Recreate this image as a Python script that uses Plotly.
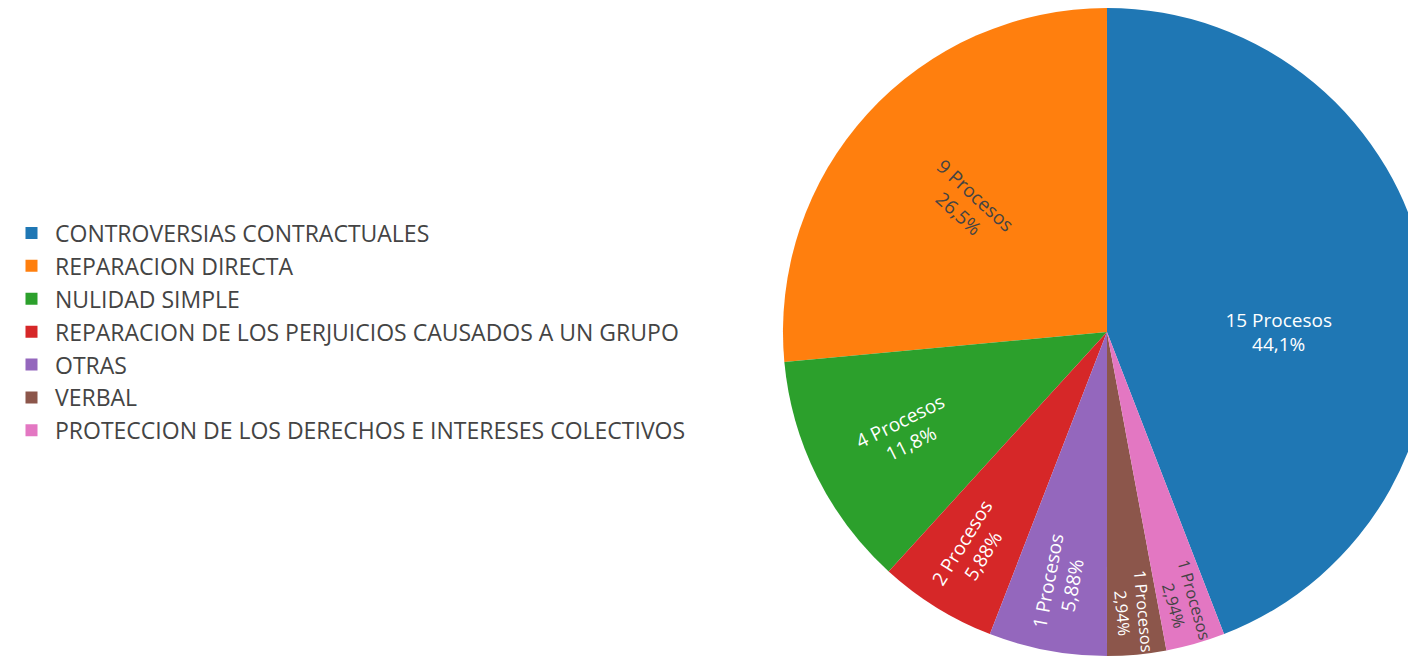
import plotly.graph_objects as go

labels = [
    "CONTROVERSIAS CONTRACTUALES",
    "REPARACION DIRECTA",
    "NULIDAD SIMPLE",
    "REPARACION DE LOS PERJUICIOS CAUSADOS A UN GRUPO",
    "OTRAS",
    "VERBAL",
    "PROTECCION DE LOS DERECHOS E INTERESES COLECTIVOS",
]
values = [15, 9, 4, 2, 2, 1, 1]
texts = ["15 Procesos", "9 Procesos", "4 Procesos", "2 Procesos", "1 Procesos", "1 Procesos", "1 Procesos"]
colors = ["#1f77b4", "#ff7f0e", "#2ca02c", "#d62728", "#9467bd", "#8c564b", "#e377c2"]

fig = go.Figure(
    go.Pie(
        labels=labels,
        values=values,
        text=texts,
        textinfo="text+percent",
        textposition="inside",
        insidetextorientation="radial",
        textfont=dict(size=19),
        marker=dict(colors=colors),
        sort=False,
        domain=dict(x=[0.5435, 1.0], y=[0, 1]),
    )
)

fig.update_layout(
    width=1424,
    height=648,
    margin=dict(l=0, r=0, t=0, b=0),
    separators=",.",
    font=dict(family="Open Sans, verdana, arial, sans-serif", color="#444"),
    legend=dict(
        x=0, xanchor="left", y=0.5, yanchor="middle",
        font=dict(size=23),
        itemwidth=37,
    ),
    paper_bgcolor="white",
)

fig.write_html("out.html")
